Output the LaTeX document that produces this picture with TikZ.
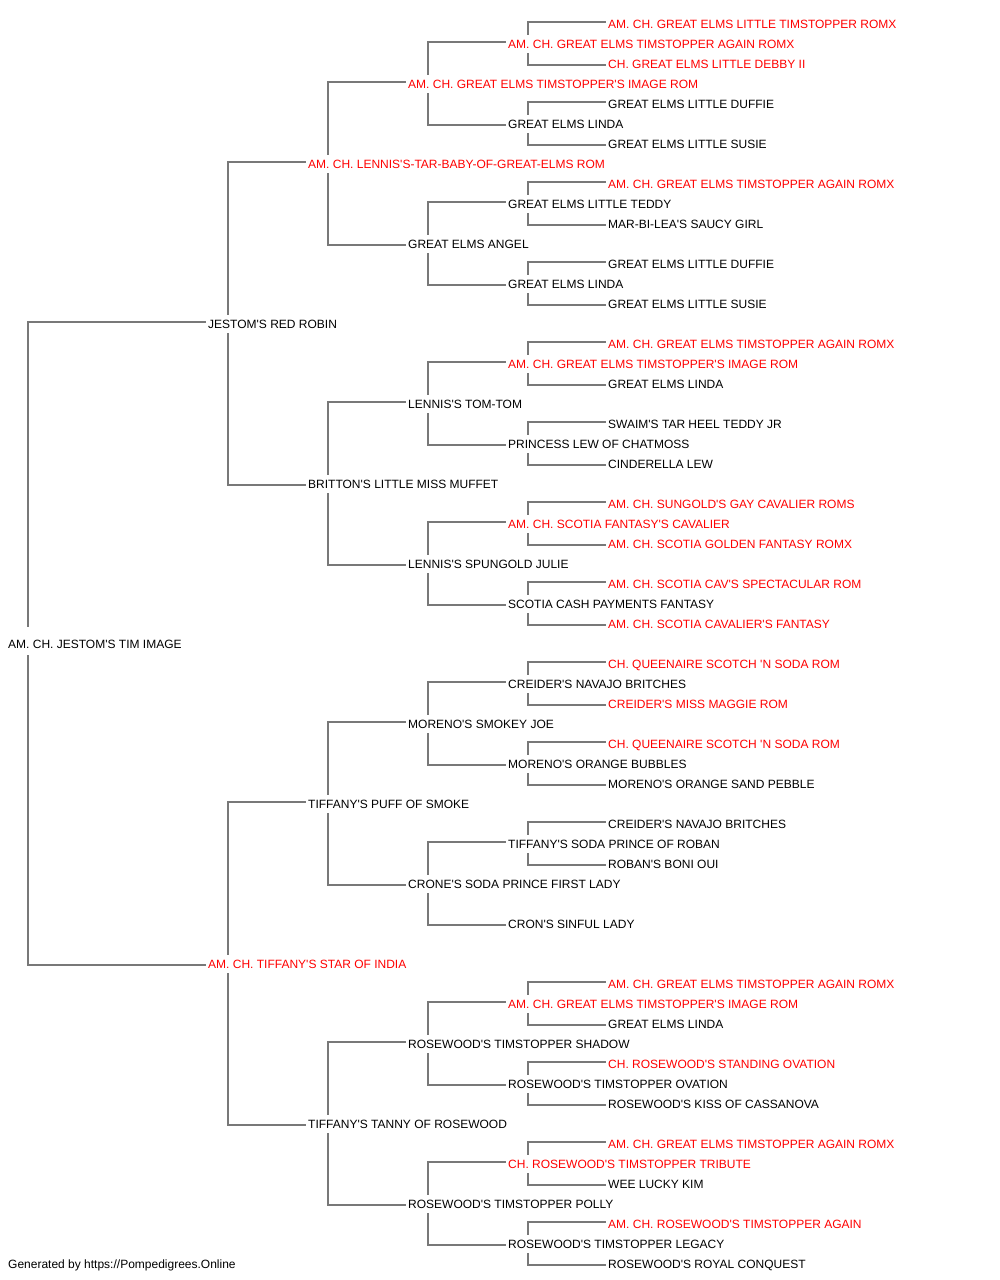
\documentclass[tikz,border=0pt]{standalone}
\usepackage{fontspec}
\setmainfont{Liberation Sans}[Ligatures=TeXOff]
\usetikzlibrary{backgrounds}
\definecolor{linegray}{RGB}{120,120,120}
\definecolor{chred}{RGB}{255,0,0}
\begin{document}
\begin{tikzpicture}[x=1pt,y=-1pt,
  dog/.style={anchor=base west, inner xsep=2pt, inner ysep=0pt, fill=white,
    text height=13.3pt, text depth=4.7pt, text=black,
    font=\fontsize{12}{14}\selectfont},
  ch/.style={dog, text=chred},
  rootdog/.style={dog, text height=21.3pt, text depth=6.7pt},
  conn/.style={draw=linegray, line width=1.8pt},
  footer/.style={anchor=base west, inner sep=0pt, font=\fontsize{12}{14}\selectfont}]
\useasboundingbox (0,0) rectangle (1000,1280);

% generation 0
\node[rootdog] (a0) at (6,648.3) {AM. CH. JESTOM'S TIM IMAGE};
% generation 1
\node[dog] (b0) at (206,328.3) {JESTOM'S RED ROBIN};
\node[ch]  (b1) at (206,968.3) {AM. CH. TIFFANY'S STAR OF INDIA};
% generation 2
\node[ch]  (c0) at (306,168.3) {AM. CH. LENNIS'S-TAR-BABY-OF-GREAT-ELMS ROM};
\node[dog] (c1) at (306,488.3) {BRITTON'S LITTLE MISS MUFFET};
\node[dog] (c2) at (306,808.3) {TIFFANY'S PUFF OF SMOKE};
\node[dog] (c3) at (306,1128.3) {TIFFANY'S TANNY OF ROSEWOOD};
% generation 3
\node[ch]  (d0) at (406,88.3) {AM. CH. GREAT ELMS TIMSTOPPER'S IMAGE ROM};
\node[dog] (d1) at (406,248.3) {GREAT ELMS ANGEL};
\node[dog] (d2) at (406,408.3) {LENNIS'S TOM-TOM};
\node[dog] (d3) at (406,568.3) {LENNIS'S SPUNGOLD JULIE};
\node[dog] (d4) at (406,728.3) {MORENO'S SMOKEY JOE};
\node[dog] (d5) at (406,888.3) {CRONE'S SODA PRINCE FIRST LADY};
\node[dog] (d6) at (406,1048.3) {ROSEWOOD'S TIMSTOPPER SHADOW};
\node[dog] (d7) at (406,1208.3) {ROSEWOOD'S TIMSTOPPER POLLY};
% generation 4
\node[ch]  (e0)  at (506,48.3) {AM. CH. GREAT ELMS TIMSTOPPER AGAIN ROMX};
\node[dog] (e1)  at (506,128.3) {GREAT ELMS LINDA};
\node[dog] (e2)  at (506,208.3) {GREAT ELMS LITTLE TEDDY};
\node[dog] (e3)  at (506,288.3) {GREAT ELMS LINDA};
\node[ch]  (e4)  at (506,368.3) {AM. CH. GREAT ELMS TIMSTOPPER'S IMAGE ROM};
\node[dog] (e5)  at (506,448.3) {PRINCESS LEW OF CHATMOSS};
\node[ch]  (e6)  at (506,528.3) {AM. CH. SCOTIA FANTASY'S CAVALIER};
\node[dog] (e7)  at (506,608.3) {SCOTIA CASH PAYMENTS FANTASY};
\node[dog] (e8)  at (506,688.3) {CREIDER'S NAVAJO BRITCHES};
\node[dog] (e9)  at (506,768.3) {MORENO'S ORANGE BUBBLES};
\node[dog] (e10) at (506,848.3) {TIFFANY'S SODA PRINCE OF ROBAN};
\node[dog] (e11) at (506,928.3) {CRON'S SINFUL LADY};
\node[ch]  (e12) at (506,1008.3) {AM. CH. GREAT ELMS TIMSTOPPER'S IMAGE ROM};
\node[dog] (e13) at (506,1088.3) {ROSEWOOD'S TIMSTOPPER OVATION};
\node[ch]  (e14) at (506,1168.3) {CH. ROSEWOOD'S TIMSTOPPER TRIBUTE};
\node[dog] (e15) at (506,1248.3) {ROSEWOOD'S TIMSTOPPER LEGACY};
% generation 5
\node[ch]  (f0)  at (606,28.3) {AM. CH. GREAT ELMS LITTLE TIMSTOPPER ROMX};
\node[ch]  (f1)  at (606,68.3) {CH. GREAT ELMS LITTLE DEBBY II};
\node[dog] (f2)  at (606,108.3) {GREAT ELMS LITTLE DUFFIE};
\node[dog] (f3)  at (606,148.3) {GREAT ELMS LITTLE SUSIE};
\node[ch]  (f4)  at (606,188.3) {AM. CH. GREAT ELMS TIMSTOPPER AGAIN ROMX};
\node[dog] (f5)  at (606,228.3) {MAR-BI-LEA'S SAUCY GIRL};
\node[dog] (f6)  at (606,268.3) {GREAT ELMS LITTLE DUFFIE};
\node[dog] (f7)  at (606,308.3) {GREAT ELMS LITTLE SUSIE};
\node[ch]  (f8)  at (606,348.3) {AM. CH. GREAT ELMS TIMSTOPPER AGAIN ROMX};
\node[dog] (f9)  at (606,388.3) {GREAT ELMS LINDA};
\node[dog] (f10) at (606,428.3) {SWAIM'S TAR HEEL TEDDY JR};
\node[dog] (f11) at (606,468.3) {CINDERELLA LEW};
\node[ch]  (f12) at (606,508.3) {AM. CH. SUNGOLD'S GAY CAVALIER ROMS};
\node[ch]  (f13) at (606,548.3) {AM. CH. SCOTIA GOLDEN FANTASY ROMX};
\node[ch]  (f14) at (606,588.3) {AM. CH. SCOTIA CAV'S SPECTACULAR ROM};
\node[ch]  (f15) at (606,628.3) {AM. CH. SCOTIA CAVALIER'S FANTASY};
\node[ch]  (f16) at (606,668.3) {CH. QUEENAIRE SCOTCH 'N SODA ROM};
\node[ch]  (f17) at (606,708.3) {CREIDER'S MISS MAGGIE ROM};
\node[ch]  (f18) at (606,748.3) {CH. QUEENAIRE SCOTCH 'N SODA ROM};
\node[dog] (f19) at (606,788.3) {MORENO'S ORANGE SAND PEBBLE};
\node[dog] (f20) at (606,828.3) {CREIDER'S NAVAJO BRITCHES};
\node[dog] (f21) at (606,868.3) {ROBAN'S BONI OUI};
\node[ch]  (f24) at (606,988.3) {AM. CH. GREAT ELMS TIMSTOPPER AGAIN ROMX};
\node[dog] (f25) at (606,1028.3) {GREAT ELMS LINDA};
\node[ch]  (f26) at (606,1068.3) {CH. ROSEWOOD'S STANDING OVATION};
\node[dog] (f27) at (606,1108.3) {ROSEWOOD'S KISS OF CASSANOVA};
\node[ch]  (f28) at (606,1148.3) {AM. CH. GREAT ELMS TIMSTOPPER AGAIN ROMX};
\node[dog] (f29) at (606,1188.3) {WEE LUCKY KIM};
\node[ch]  (f30) at (606,1228.3) {AM. CH. ROSEWOOD'S TIMSTOPPER AGAIN};
\node[dog] (f31) at (606,1268.3) {ROSEWOOD'S ROYAL CONQUEST};

\node[footer] (foot) at (8,1268.3) {Generated by https://Pompedigrees.Online};

\begin{scope}[on background layer]
\fill[white] (0,0) rectangle (1000,1280);
\draw[conn] ([yshift=6.3pt]b0.base west) -| ([xshift=22pt]a0.base west) |- ([yshift=3.3pt]b1.base west);
\draw[conn] ([yshift=6.3pt]c0.base west) -| ([xshift=22pt]b0.base west) |- ([yshift=3.3pt]c1.base west);
\draw[conn] ([yshift=6.3pt]c2.base west) -| ([xshift=22pt]b1.base west) |- ([yshift=3.3pt]c3.base west);
\foreach \i in {0,...,3} {
  \pgfmathtruncatemacro\j{2*\i}
  \pgfmathtruncatemacro\k{2*\i+1}
  \draw[conn] ([yshift=6.3pt]d\j.base west) -| ([xshift=22pt]c\i.base west) |- ([yshift=3.3pt]d\k.base west);
}
\foreach \i in {0,...,7} {
  \pgfmathtruncatemacro\j{2*\i}
  \pgfmathtruncatemacro\k{2*\i+1}
  \draw[conn] ([yshift=6.3pt]e\j.base west) -| ([xshift=22pt]d\i.base west) |- ([yshift=3.3pt]e\k.base west);
}
\foreach \i in {0,...,10,12,13,14,15} {
  \pgfmathtruncatemacro\j{2*\i}
  \pgfmathtruncatemacro\k{2*\i+1}
  \draw[conn] ([yshift=6.3pt]f\j.base west) -| ([xshift=22pt]e\i.base west) |- ([yshift=3.3pt]f\k.base west);
}
\end{scope}
\end{tikzpicture}
\end{document}
